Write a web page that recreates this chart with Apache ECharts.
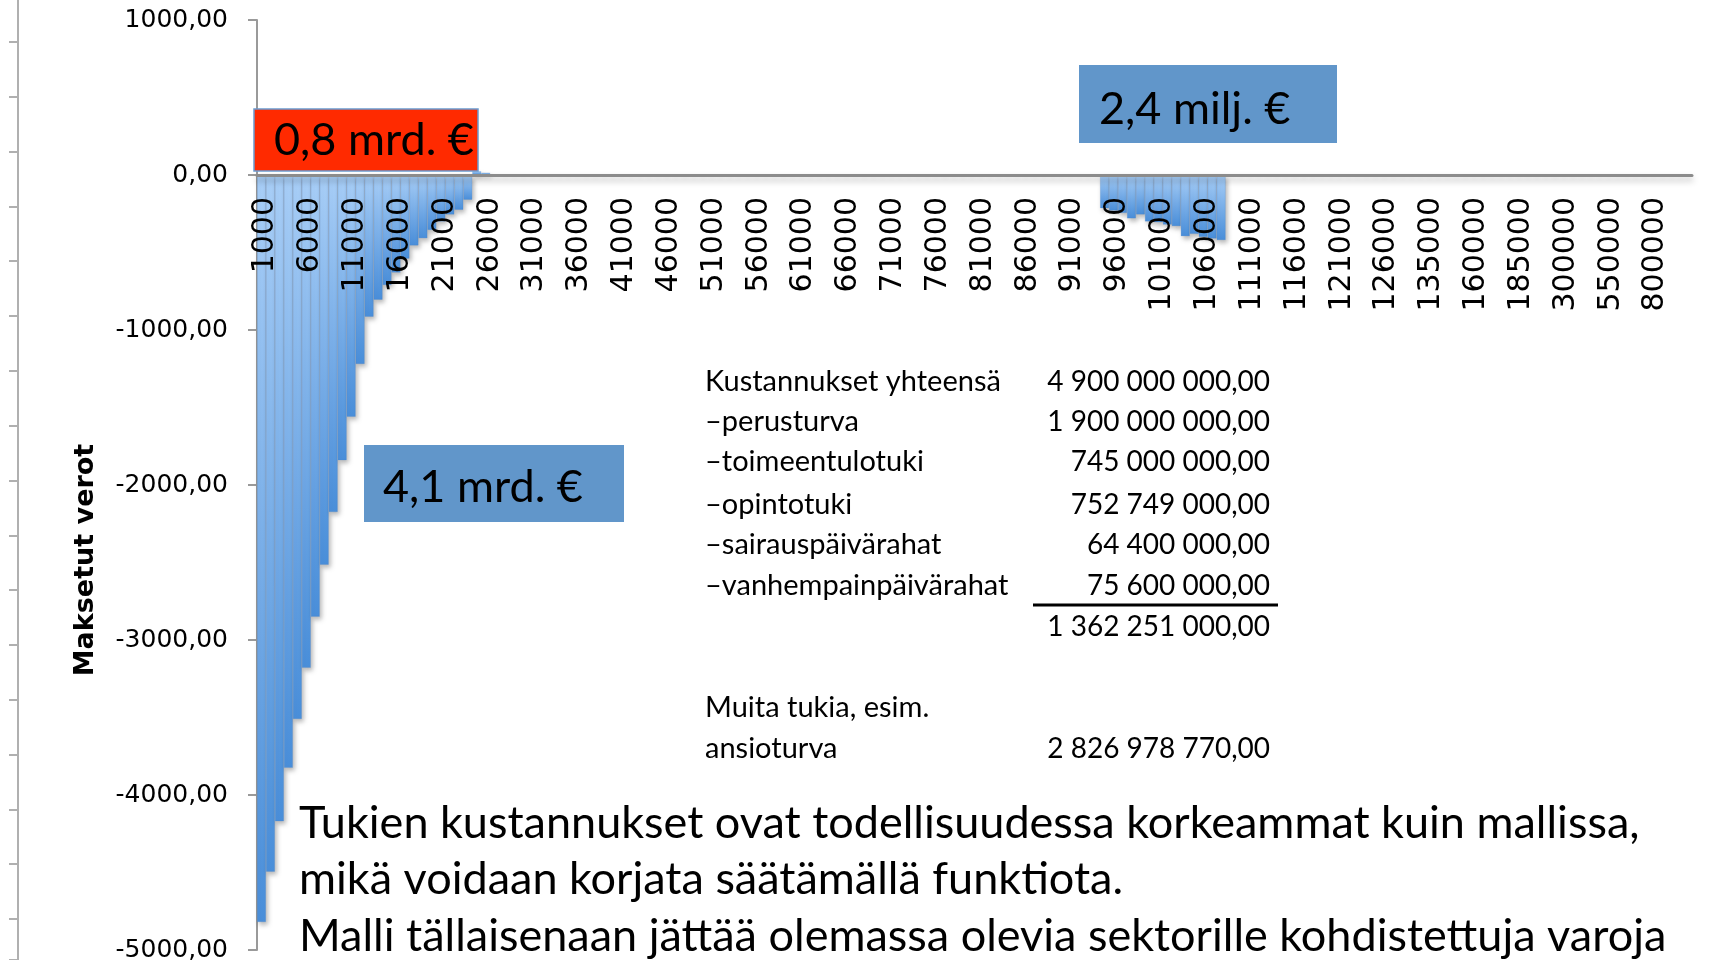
<!DOCTYPE html>
<html>
<head>
<meta charset="utf-8">
<script src="https://cdn.jsdelivr.net/npm/echarts@6/dist/echarts.min.js"></script>
<style>
  html, body { margin: 0; padding: 0; background: #fff; }
  #chart { width: 1716px; height: 960px; }
</style>
</head>
<body>
<div id="chart"></div>
<script>
// tulotasot (x-akseli): [alku, loppu, askel]
var incomeRanges = [
  [1000, 130000, 1000],
  [135000, 185000, 5000],
  [200000, 300000, 25000],
  [350000, 1000000, 50000]
];

// maksetut verot tulotasoittain
var taxValues = [
  -4820, -4495, -4170, -3825, -3510, -3180, -2850, -2515, -2175, -1840,
  -1560, -1220, -915, -805, -710, -630, -540, -455, -408, -355,
  -300, -255, -225, -160, 25, 15, 0, 0, 0, 0,
  0, 0, 0, 0, 0, 0, 0, 0, 0, 0,
  0, 0, 0, 0, 0, 0, 0, 0, 0, 0,
  0, 0, 0, 0, 0, 0, 0, 0, 0, 0,
  0, 0, 0, 0, 0, 0, 0, 0, 0, 0,
  0, 0, 0, 0, 0, 0, 0, 0, 0, 0,
  0, 0, 0, 0, 0, 0, 0, 0, 0, 0,
  0, 0, 0, 0, -215, -230, -245, -280, -255, -300,
  -305, -320, -330, -395, -380, -400, -410, -420, 0, 0,
  0, 0, 0, 0, 0, 0, 0, 0, 0, 0,
  0, 0, 0, 0, 0, 0, 0, 0, 0, 0,
  0, 0, 0, 0, 0, 0, 0, 0, 0, 0,
  0, 0, 0, 0, 0, 0, 0, 0, 0, 0,
  0, 0, 0, 0, 0, 0, 0, 0, 0, 0
];

var boxLabels = ['0,8 mrd. €', '4,1 mrd. €', '2,4 milj. €'];

var tableLabels = ['Kustannukset yhteensä', '–perusturva', '–toimeentulotuki', '–opintotuki',
  '–sairauspäivärahat', '–vanhempainpäivärahat', '', 'Muita tukia, esim.', 'ansioturva'];
var tableValues = ['4 900 000 000,00', '1 900 000 000,00', '745 000 000,00', '752 749 000,00',
  '64 400 000,00', '75 600 000,00', '1 362 251 000,00', '', '2 826 978 770,00'];

var noteLines = [
  'Tukien kustannukset ovat todellisuudessa korkeammat kuin mallissa,',
  'mikä voidaan korjata säätämällä funktiota.',
  'Malli tällaisenaan jättää olemassa olevia sektorille kohdistettuja varoja'
];

var categories = [];
incomeRanges.forEach(function (r) {
  for (var v = r[0]; v <= r[1]; v += r[2]) categories.push(String(v));
});

var textFont = 'Lato';
var graphics = [];

// laatikot
var boxes = [
  { x: 254, y: 109, w: 224, h: 62, fill: '#ff2a00', stroke: '#6a9bd0', tx: 274, ty: 140 },
  { x: 364, y: 445, w: 260, h: 77, fill: '#6196ca', stroke: null, tx: 383, ty: 487 },
  { x: 1079, y: 65, w: 258, h: 78, fill: '#6196ca', stroke: null, tx: 1099, ty: 109 }
];
boxes.forEach(function (b, i) {
  graphics.push({
    type: 'rect', z: 100,
    shape: { x: b.x, y: b.y, width: b.w, height: b.h },
    style: { fill: b.fill, stroke: b.stroke, lineWidth: 1.5 }
  });
  graphics.push({
    type: 'text', z: 101, x: b.tx, y: b.ty,
    style: { text: boxLabels[i], font: '45px ' + textFont, fill: '#000',
      align: 'left', verticalAlign: 'middle', textAlign: 'left', textVerticalAlign: 'middle' }
  });
});

// taulukko
var rowY = [382, 422, 462, 505, 545, 586, 627, 708, 749];
tableLabels.forEach(function (t, i) {
  graphics.push({
    type: 'text', z: 101, x: 705, y: rowY[i],
    style: { text: t, font: '29px ' + textFont, fill: '#000',
      align: 'left', verticalAlign: 'middle', textAlign: 'left', textVerticalAlign: 'middle' }
  });
  graphics.push({
    type: 'text', z: 101, x: 1270, y: rowY[i],
    style: { text: tableValues[i], font: '28px ' + textFont, fill: '#000',
      align: 'right', verticalAlign: 'middle', textAlign: 'right', textVerticalAlign: 'middle' }
  });
});
graphics.push({
  type: 'line', z: 101,
  shape: { x1: 1033, y1: 605, x2: 1278, y2: 605 },
  style: { stroke: '#000', lineWidth: 3 }
});

// alateksti
noteLines.forEach(function (t, i) {
  graphics.push({
    type: 'text', z: 101, x: 299, y: 823 + i * 56.5,
    style: { text: t, font: '45px ' + textFont, fill: '#000',
      align: 'left', verticalAlign: 'middle', textAlign: 'left', textVerticalAlign: 'middle' }
  });
});

// y-akselin nimi
graphics.push({
  type: 'text', z: 101, x: 86, y: 560, rotation: Math.PI / 2,
  style: { text: 'Maksetut verot', font: 'bold 27px "DejaVu Sans"', fill: '#000',
    align: 'center', verticalAlign: 'middle', textAlign: 'center', textVerticalAlign: 'middle' }
});

var chart = echarts.init(document.getElementById('chart'));
chart.setOption({
  animation: false,
  grid: [
    // pylväät
    { left: 257, right: 24, top: 20, bottom: 10, outerBoundsMode: 'none', containLabel: false },
    // vasen reunaviiva
    { left: 18, width: 1, top: -12.8, bottom: 0, outerBoundsMode: 'none', containLabel: false },
    // x-akselin tekstit nollaviivan alla
    { left: 261, right: 20, top: 20, height: 155, outerBoundsMode: 'none', containLabel: false }
  ],
  xAxis: [
    {
      type: 'category',
      data: categories,
      z: 5,
      axisLine: {
        onZero: true,
        lineStyle: { color: '#8c8c8c', width: 3, shadowColor: 'rgba(0,0,0,0.25)', shadowBlur: 6, shadowOffsetY: 4 }
      },
      axisTick: { show: false },
      axisLabel: { show: false }
    },
    { type: 'value', gridIndex: 1, show: false },
    {
      type: 'category',
      gridIndex: 2,
      data: categories,
      z: 6,
      axisLine: { show: false },
      axisTick: { show: false },
      axisLabel: { rotate: 90, interval: 4, margin: 22, color: '#000', fontFamily: 'DejaVu Sans', fontSize: 30 }
    }
  ],
  yAxis: [
    {
      type: 'value',
      min: -5000,
      max: 1000,
      interval: 1000,
      axisLine: { show: true, lineStyle: { color: '#9a9a9a', width: 2 } },
      axisTick: { show: true, length: 9, lineStyle: { color: '#9a9a9a', width: 2 } },
      splitLine: { show: false },
      axisLabel: {
        margin: 29, color: '#000', fontFamily: 'DejaVu Sans', fontSize: 25, padding: [8, 0, 0, 0],
        formatter: function (v) { return v.toFixed(2).replace('.', ','); }
      }
    },
    {
      type: 'value', gridIndex: 1, inverse: true, min: 0, max: 17.75, interval: 1,
      axisLine: { show: true, lineStyle: { color: '#b0b0b0', width: 2 } },
      axisTick: { show: true, length: 9, lineStyle: { color: '#b0b0b0', width: 2 } },
      axisLabel: { show: false },
      splitLine: { show: false }
    },
    { type: 'value', gridIndex: 2, show: false }
  ],
  series: [{
    type: 'bar',
    data: taxValues,
    barCategoryGap: '0%',
    itemStyle: {
      color: new echarts.graphic.LinearGradient(0, 0, 0, 1, [
        { offset: 0, color: '#a9cff8' },
        { offset: 1, color: '#4a8fda' }
      ]),
      borderColor: 'rgba(70,130,200,0.35)',
      borderWidth: 0.6,
      shadowColor: 'rgba(0,0,0,0.3)',
      shadowBlur: 5,
      shadowOffsetX: 2,
      shadowOffsetY: 3
    }
  }],
  graphic: graphics
});
</script>
</body>
</html>
